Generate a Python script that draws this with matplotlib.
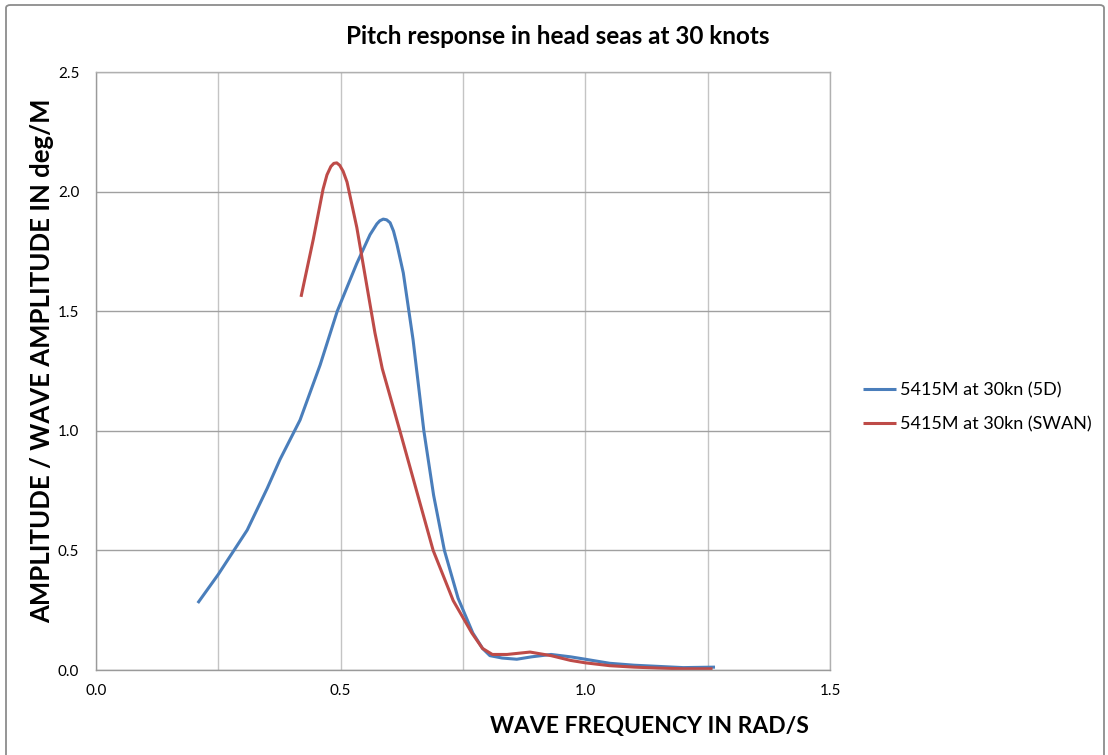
import matplotlib
matplotlib.use('Agg')

import matplotlib.pyplot as plt
from matplotlib.patches import FancyBboxPatch
from matplotlib.ticker import MultipleLocator, FormatStrFormatter

# values
freq_5d = [0.208, 0.25, 0.309, 0.35, 0.376, 0.417, 0.458, 0.493, 0.533, 0.56,
           0.574, 0.58, 0.587, 0.594, 0.601, 0.608, 0.615, 0.628, 0.648, 0.670,
           0.690, 0.712, 0.74, 0.77, 0.79, 0.805, 0.83, 0.86, 0.89, 0.93,
           0.97, 1.0, 1.05, 1.1, 1.15, 1.2, 1.265]
amp_5d = [0.28, 0.40, 0.585, 0.76, 0.88, 1.045, 1.275, 1.5, 1.70, 1.82,
          1.865, 1.878, 1.885, 1.882, 1.87, 1.835, 1.78, 1.66, 1.38, 1.0,
          0.73, 0.5, 0.30, 0.155, 0.09, 0.06, 0.05, 0.045, 0.055, 0.065,
          0.055, 0.045, 0.028, 0.02, 0.015, 0.01, 0.012]

freq_swan = [0.419, 0.444, 0.464, 0.472, 0.480, 0.486, 0.492, 0.498, 0.505, 0.513,
             0.533, 0.554, 0.570, 0.585, 0.621, 0.655, 0.689, 0.73, 0.768, 0.79,
             0.81, 0.84, 0.887, 0.93, 0.97, 1.0, 1.05, 1.1, 1.15, 1.2, 1.26]
amp_swan = [1.56, 1.80, 2.01, 2.07, 2.105, 2.118, 2.12, 2.11, 2.085, 2.04,
            1.85, 1.60, 1.41, 1.26, 1.0, 0.75, 0.5, 0.29, 0.155, 0.09,
            0.065, 0.065, 0.075, 0.06, 0.04, 0.03, 0.018, 0.012, 0.008, 0.005, 0.005]

labels = ["5415M at 30kn (5D)", "5415M at 30kn (SWAN)"]

plt.rcParams['font.family'] = ['Lato', 'DejaVu Sans']

W, H = 1108, 755
fig = plt.figure(figsize=(W / 100, H / 100), dpi=100)

# chart border like the Excel chart area
fig.patches.append(FancyBboxPatch((6 / W, -0.05), 1098 / W, (H - 5) / H + 0.05,
                                  boxstyle="round,pad=0,rounding_size=0.004",
                                  transform=fig.transFigure, fill=False,
                                  edgecolor="#8c8c8c", linewidth=1.3))

ax = fig.add_axes([96 / W, 85 / H, 734 / W, 598 / H])

ax.plot(freq_5d, amp_5d, color="#4a7ebb", linewidth=2.2, label=labels[0],
        solid_capstyle="butt", solid_joinstyle="round")
ax.plot(freq_swan, amp_swan, color="#be4b48", linewidth=2.2, label=labels[1],
        solid_capstyle="butt", solid_joinstyle="round")

ax.set_xlim(0, 1.5)
ax.set_ylim(0, 2.5)
ax.xaxis.set_major_locator(MultipleLocator(0.5))
ax.xaxis.set_minor_locator(MultipleLocator(0.25))
ax.yaxis.set_major_locator(MultipleLocator(0.5))
ax.xaxis.set_major_formatter(FormatStrFormatter('%.1f'))
ax.yaxis.set_major_formatter(FormatStrFormatter('%.1f'))
ax.tick_params(which="both", length=0, labelsize=11, colors="black")
ax.tick_params(axis="x", pad=10)
ax.tick_params(axis="y", pad=12)

ax.grid(True, which="major", axis="y", color="#a0a0a0", linewidth=1)
ax.grid(True, which="both", axis="x", color="#c4c4c4", linewidth=1)
ax.set_axisbelow(True)
for s in ax.spines.values():
    s.set_color("#b0b0b0")
    s.set_linewidth(1)
ax.spines["bottom"].set_color("#9a9a9a")
ax.spines["left"].set_color("#9a9a9a")

fig.text(558 / W, 1 - 37 / H, "Pitch response in head seas at 30 knots",
         ha="center", va="center", fontsize=17.5, fontweight="bold")
fig.text(649 / W, 1 - 727 / H, "WAVE FREQUENCY IN RAD/S",
         ha="center", va="center", fontsize=16.5, fontweight="bold")
fig.text(42 / W, 1 - 361 / H, "AMPLITUDE / WAVE AMPLITUDE IN deg/M",
         ha="center", va="center", rotation=90, fontsize=18.5, fontweight="bold")

fig.legend(loc="center left", bbox_to_anchor=(847 / W, 1 - 407 / H),
           frameon=False, fontsize=13, handlelength=1.8, handletextpad=0.25,
           labelspacing=1.0)

plt.savefig("out.png", dpi=100)
